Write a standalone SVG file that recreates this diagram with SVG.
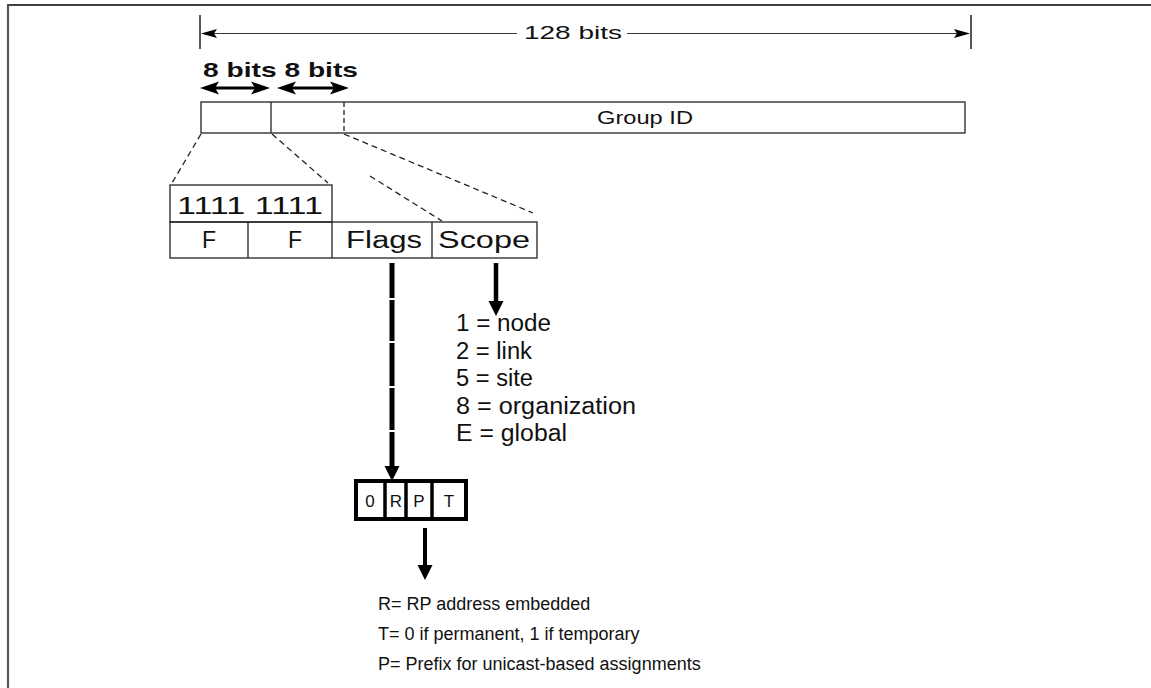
<svg xmlns="http://www.w3.org/2000/svg" width="1151" height="688" viewBox="0 0 1151 688">
<style>
.t{font-family:"Liberation Sans",Arial,Helvetica,sans-serif;fill:#111}
.b{font-weight:bold}
.box{fill:none;stroke:#222;stroke-width:1.3}
.dash{fill:none;stroke:#222;stroke-width:1.3;stroke-dasharray:6 4}
.thin{stroke:#333;stroke-width:1.2;fill:none}
.tick{stroke:#444;stroke-width:1.8}
.heavy{stroke:#000;fill:none}
.head{fill:#000}
</style>
<rect width="1151" height="688" fill="#fff"/>
<g id="frame">
<line x1="7" y1="5" x2="1151" y2="5" stroke="#000" stroke-width="1.6"/>
<line x1="8" y1="5" x2="8" y2="688" stroke="#555" stroke-width="2.2"/>
</g>
<g id="dim128">
<line class="tick" x1="200" y1="15" x2="200" y2="49"/>
<line class="tick" x1="971" y1="15" x2="971" y2="49"/>
<line class="thin" x1="210" y1="33.5" x2="517" y2="33.5"/>
<line class="thin" x1="627" y1="33.5" x2="960" y2="33.5"/>
<polygon class="head" points="201,33.5 217,29 214,33.5 217,38"/>
<polygon class="head" points="970,33.5 954,29 957,33.5 954,38"/>
<text class="t" x="524" y="39" font-size="19" textLength="98" lengthAdjust="spacingAndGlyphs">128 bits</text>
</g>
<g id="dim8">
<text class="t b" x="203" y="77" font-size="21" textLength="155" lengthAdjust="spacingAndGlyphs">8 bits 8 bits</text>
<line class="heavy" stroke-width="3" x1="214" y1="88" x2="256" y2="88"/>
<polygon class="head" points="200,88 219,81.5 215,88 219,94.5"/>
<polygon class="head" points="270,88 251,81.5 255,88 251,94.5"/>
<line class="heavy" stroke-width="3" x1="291" y1="88" x2="335" y2="88"/>
<polygon class="head" points="277,88 296,81.5 292,88 296,94.5"/>
<polygon class="head" points="349,88 330,81.5 334,88 330,94.5"/>
</g>
<g id="groupid">
<rect class="box" x="201" y="102" width="764" height="31"/>
<line class="box" x1="271" y1="102" x2="271" y2="133"/>
<line class="dash" x1="344" y1="102" x2="344" y2="133" style="stroke-dasharray:5 3"/>
<text class="t" x="597" y="124" font-size="18" textLength="96" lengthAdjust="spacingAndGlyphs">Group ID</text>
</g>
<g id="connectors">
<line class="dash" x1="201" y1="134" x2="172" y2="183"/>
<line class="dash" x1="272" y1="134" x2="328" y2="183"/>
<line class="dash" x1="344" y1="134" x2="533" y2="213"/>
<line class="dash" x1="370" y1="176" x2="442" y2="221"/>
<line class="heavy" stroke-width="5" x1="392" y1="263" x2="392" y2="468" stroke-dasharray="35 2 41 2 43 2 42 2 40"/>
<polygon class="head" points="392,481 384.5,466 399.5,466"/>
<line class="heavy" stroke-width="4.5" x1="496" y1="263" x2="496" y2="303"/>
<polygon class="head" points="496,316 488.5,301 503.5,301"/>
<line class="heavy" stroke-width="4" x1="425" y1="528" x2="425" y2="567"/>
<polygon class="head" points="425,580 417.5,565 432.5,565"/>
</g>
<g id="table">
<rect class="box" x="170" y="185" width="162" height="37"/>
<rect class="box" x="170" y="222" width="367" height="36"/>
<line class="box" x1="248" y1="222" x2="248" y2="258"/>
<line class="box" x1="332" y1="222" x2="332" y2="258"/>
<line class="box" x1="432" y1="222" x2="432" y2="258"/>
<text class="t" x="177" y="214" font-size="23" textLength="146" lengthAdjust="spacingAndGlyphs">1111 1111</text>
<text class="t" x="209" y="248" font-size="23" text-anchor="middle">F</text>
<text class="t" x="295" y="248" font-size="23" text-anchor="middle">F</text>
<text class="t" x="346" y="248" font-size="23" textLength="76" lengthAdjust="spacingAndGlyphs">Flags</text>
<text class="t" x="438" y="248" font-size="23" textLength="92" lengthAdjust="spacingAndGlyphs">Scope</text>
</g>
<g id="scope-values">
<text class="t" x="456" y="331" font-size="23" textLength="95" lengthAdjust="spacingAndGlyphs">1 = node</text>
<text class="t" x="456" y="358.5" font-size="23" textLength="76" lengthAdjust="spacingAndGlyphs">2 = link</text>
<text class="t" x="456" y="386" font-size="23" textLength="77" lengthAdjust="spacingAndGlyphs">5 = site</text>
<text class="t" x="456" y="413.5" font-size="23" textLength="180" lengthAdjust="spacingAndGlyphs">8 = organization</text>
<text class="t" x="456" y="441" font-size="23" textLength="111" lengthAdjust="spacingAndGlyphs">E = global</text>
</g>
<g id="flags-box">
<rect x="356" y="481" width="110" height="38" fill="#fff" stroke="#000" stroke-width="4"/>
<line stroke="#000" stroke-width="3.5" x1="385" y1="481" x2="385" y2="519"/>
<line stroke="#000" stroke-width="3.5" x1="406" y1="481" x2="406" y2="519"/>
<line stroke="#000" stroke-width="3.5" x1="432" y1="481" x2="432" y2="519"/>
<text class="t" x="370" y="507" font-size="17" text-anchor="middle">0</text>
<text class="t" x="396" y="507" font-size="17" text-anchor="middle">R</text>
<text class="t" x="419" y="507" font-size="17" text-anchor="middle">P</text>
<text class="t" x="449" y="507" font-size="17" text-anchor="middle">T</text>
</g>
<g id="flag-values">
<text class="t" x="378" y="610" font-size="18">R= RP address embedded</text>
<text class="t" x="378" y="640" font-size="18">T= 0 if permanent, 1 if temporary</text>
<text class="t" x="378" y="670" font-size="18">P= Prefix for unicast-based assignments</text>
</g>
</svg>
